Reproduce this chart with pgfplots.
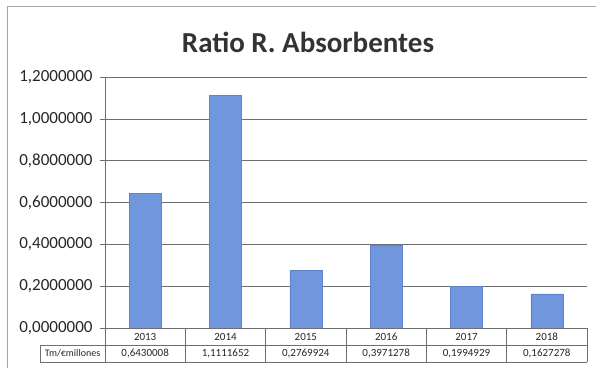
\documentclass[border=0pt]{standalone}
\usepackage{pgfplots}
\pgfplotsset{compat=1.18}
\usetikzlibrary{calc}
\usepackage{fontspec}
\setmainfont{Carlito}
\definecolor{barblue}{RGB}{112,150,222}
\definecolor{baredge}{RGB}{95,130,205}
\definecolor{gridgray}{RGB}{110,110,110}
\begin{document}
\begin{tikzpicture}
\path[use as bounding box] (0pt,0pt) rectangle (596pt,368pt);
% outer chart frame
\draw[gray!70, line width=0.8pt] (7pt,0pt) -- (7pt,362pt) -- (596pt,362pt);
\node[font=\bfseries\fontsize{29}{32}\selectfont, text=black!80] at (308pt,326pt) {Ratio R. Absorbentes};
\begin{axis}[
  at={(105pt,40pt)}, anchor=south west,
  scale only axis, width=482pt, height=251pt,
  xmin=-0.5, xmax=5.5, ymin=0, ymax=1.2,
  ytick={0,0.2,0.4,0.6,0.8,1.0,1.2},
  yticklabels={{0,0000000},{0,2000000},{0,4000000},{0,6000000},{0,8000000},{1,0000000},{1,2000000}},
  yticklabel style={font=\fontsize{17}{19}\selectfont, text=black!85, xshift=-4pt},
  xtick=\empty,
  axis x line=none,
  axis y line*=left,
  y axis line style={gridgray, line width=0.6pt, -},
  tick style={gridgray, line width=0.6pt},
  major tick length=5pt,
  tick align=outside,
  ymajorgrids,
  grid style={gridgray, line width=0.6pt},
  clip=false,
  bar width=32pt,
]
\addplot[ybar, fill=barblue, draw=baredge, line width=0.4pt] coordinates {
  (0,0.6430008) (1,1.1111652) (2,0.2769924) (3,0.3971278) (4,0.1994929) (5,0.1627278)
};
% data table under the plot
\draw[gridgray, line width=0.6pt]
  (axis cs:-0.5,0) -- (axis cs:5.5,0)
  ($(rel axis cs:0,0)+(-65pt,-17pt)$) -- ++(547pt,0pt)
  ($(rel axis cs:0,0)+(-65pt,-34pt)$) -- ++(547pt,0pt)
  ($(rel axis cs:0,0)+(-65pt,-17pt)$) -- ++(0pt,-17pt)
  (rel axis cs:0,0) -- ++(0pt,-34pt)
  (axis cs:0.5,0) -- ++(0pt,-34pt)
  (axis cs:1.5,0) -- ++(0pt,-34pt)
  (axis cs:2.5,0) -- ++(0pt,-34pt)
  (axis cs:3.5,0) -- ++(0pt,-34pt)
  (axis cs:4.5,0) -- ++(0pt,-34pt)
  (axis cs:5.5,0) -- ++(0pt,-34pt);
\node[font=\fontsize{10}{12}\selectfont, text=black!85] at ($(rel axis cs:0,0)+(-32.5pt,-25.5pt)$) {Tm/€millones};
\addplot[draw=none, mark=none, nodes near coords={\pgfplotspointmeta}, point meta=explicit symbolic,
  every node near coord/.style={anchor=center, font=\fontsize{11}{13}\selectfont, text=black!85}]
  coordinates {
  (0,-0.0406)[2013] (1,-0.0406)[2014] (2,-0.0406)[2015] (3,-0.0406)[2016] (4,-0.0406)[2017] (5,-0.0406)[2018]
};
\addplot[draw=none, mark=none, nodes near coords={\pgfplotspointmeta}, point meta=explicit symbolic,
  every node near coord/.style={anchor=center, font=\fontsize{11}{13}\selectfont, text=black!85}]
  coordinates {
  (0,-0.1219)[0{,}6430008] (1,-0.1219)[1{,}1111652] (2,-0.1219)[0{,}2769924]
  (3,-0.1219)[0{,}3971278] (4,-0.1219)[0{,}1994929] (5,-0.1219)[0{,}1627278]
};
\end{axis}
\end{tikzpicture}
\end{document}
